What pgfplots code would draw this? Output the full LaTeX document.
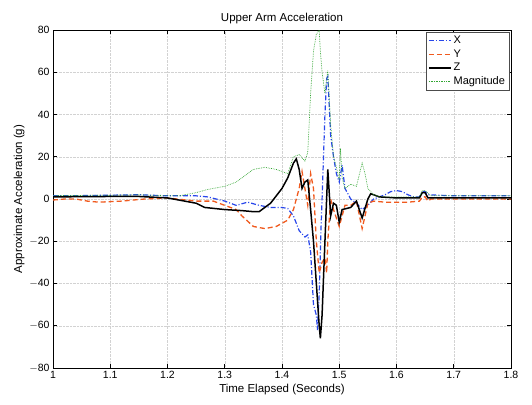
\documentclass[border=0pt]{standalone}
\usepackage{fontspec}
\setmainfont{Liberation Sans}
\usepackage{pgfplots}
\pgfplotsset{compat=1.18}
\definecolor{xblue}{RGB}{40,70,235}
\definecolor{yorange}{RGB}{240,90,30}
\definecolor{mgreen}{RGB}{50,165,50}

\begin{document}
\begin{tikzpicture}
\begin{axis}[
    scale only axis,
    width=458pt, height=338pt,
    xmin=1, xmax=1.8,
    ymin=-80, ymax=80,
    xtick={1,1.1,1.2,1.3,1.4,1.5,1.6,1.7,1.8},
    ytick={-80,-60,-40,-20,0,20,40,60,80},
    xticklabels={1,1.1,1.2,1.3,1.4,1.5,1.6,1.7,1.8},
    yticklabels={$-$80,$-$60,$-$40,$-$20,0,20,40,60,80},
    tick align=inside,
    major tick length=4pt,
    xmajorgrids, ymajorgrids,
    grid style={densely dotted, gray!35},
    axis line style={black, line width=0.6pt},
    tick style={black, line width=0.6pt},
    tick label style={font=\fontsize{10.5}{12}\selectfont},
    label style={font=\fontsize{11.5}{13}\selectfont},
    title style={font=\fontsize{11.5}{13}\selectfont, yshift=-3pt},
    title={Upper Arm Acceleration},
    xlabel={Time Elapsed (Seconds)},
    ylabel={Approximate Acceleration (g)},
    xlabel style={yshift=2pt},
    ylabel style={yshift=-2pt},
    legend cell align=left,
    legend style={
        at={(0.996,0.994)}, anchor=north east,
        draw=black!70, line width=0.4pt,
        font=\fontsize{11}{13}\selectfont,
        inner sep=2pt, row sep=0.5pt,
        /tikz/every even column/.append style={column sep=2pt}
    },
    legend image code/.code={\draw[#1] plot coordinates {(0pt,0pt) (11pt,0pt) (22pt,0pt)};},
]
% X
\addplot[xblue, line width=1.2pt, dash pattern=on 5pt off 2pt on 1pt off 2pt] coordinates {
(1.00,1.5) (1.05,1.6) (1.10,1.8) (1.15,2.0) (1.20,1.5) (1.25,1.5) (1.27,1.0)
(1.30,-1) (1.32,-3) (1.34,-1.5) (1.36,-3) (1.38,-4) (1.40,-4) (1.41,-4.5)
(1.42,-8) (1.43,-15) (1.44,-18) (1.445,-17) (1.45,-25) (1.455,-50) (1.46,-55)
(1.462,-62) (1.465,-45) (1.468,-15) (1.47,0) (1.475,40) (1.478,57) (1.48,58)
(1.485,30) (1.49,20) (1.495,12) (1.50,8) (1.505,16) (1.51,5) (1.52,0)
(1.53,-2) (1.54,-5) (1.55,-3) (1.56,0) (1.57,1) (1.58,2) (1.59,3.5) (1.60,4)
(1.61,3.5) (1.62,2) (1.63,1) (1.64,1) (1.645,3.5) (1.65,3.5) (1.655,2)
(1.70,1.5) (1.75,1.5) (1.80,1.5)};
\addlegendentry{X}
% Y
\addplot[yorange, line width=1.3pt, dash pattern=on 5pt off 3pt] coordinates {
(1.00,-0.5) (1.02,0) (1.04,0) (1.06,-1) (1.08,-1.5) (1.12,-1) (1.16,0)
(1.20,0.5) (1.25,-1) (1.28,-1) (1.30,-3) (1.32,-5) (1.33,-8) (1.35,-13)
(1.37,-14) (1.39,-13) (1.41,-10) (1.42,-5) (1.43,5) (1.435,13) (1.44,5)
(1.445,-3) (1.45,12) (1.455,5) (1.46,-20) (1.465,-35) (1.47,-30) (1.475,-28)
(1.478,-35) (1.48,-20) (1.485,0) (1.49,-5) (1.50,-13) (1.505,-8) (1.51,-3)
(1.52,-3) (1.53,-1) (1.54,-14) (1.545,-8) (1.55,-2) (1.56,-1) (1.58,-1.5)
(1.62,-1.5) (1.64,-1) (1.645,1) (1.65,1) (1.655,-1) (1.66,0) (1.70,0) (1.80,0)};
\addlegendentry{Y}
% Z
\addplot[black, line width=1.5pt] coordinates {
(1.00,1) (1.10,1.2) (1.15,1.2) (1.20,0.5) (1.25,-2) (1.265,-4) (1.30,-5)
(1.33,-5.5) (1.35,-6) (1.36,-6) (1.38,-2) (1.40,5) (1.41,10) (1.42,17)
(1.425,19) (1.43,14) (1.435,5) (1.44,8) (1.445,9) (1.45,-5) (1.455,-20)
(1.46,-40) (1.465,-60) (1.467,-66) (1.47,-55) (1.475,-20) (1.48,14)
(1.485,-8) (1.49,-2) (1.495,-3) (1.50,-11) (1.505,-5) (1.52,-4) (1.53,-1)
(1.54,-9) (1.55,0) (1.555,2.5) (1.57,1) (1.60,0.5) (1.64,0.5) (1.645,3)
(1.65,3) (1.655,0.5) (1.70,0.5) (1.80,0.5)};
\addlegendentry{Z}
% Magnitude
\addplot[mgreen, line width=0.7pt, densely dotted] coordinates {
(1.00,1.6) (1.10,1.8) (1.15,2) (1.20,1.5) (1.22,1.5) (1.25,3) (1.27,4.5)
(1.30,6) (1.32,8) (1.35,14) (1.37,15) (1.39,14) (1.41,12) (1.42,20)
(1.43,21) (1.44,18) (1.445,22) (1.45,50) (1.455,70) (1.46,78) (1.465,80)
(1.467,70) (1.47,60) (1.475,50) (1.48,61) (1.485,35) (1.49,20) (1.495,15)
(1.50,9) (1.502,24) (1.505,10) (1.51,5) (1.52,7) (1.53,6) (1.54,17)
(1.545,12) (1.55,5) (1.56,2) (1.57,1) (1.60,1) (1.64,1) (1.645,4) (1.65,4)
(1.66,1.5) (1.70,1.5) (1.80,1.5)};
\addlegendentry{Magnitude}
\end{axis}
\path ([shift={(-53pt,-37pt)}]current axis.south west) rectangle ([shift={(21pt,30pt)}]current axis.north east);
\end{tikzpicture}
\end{document}
